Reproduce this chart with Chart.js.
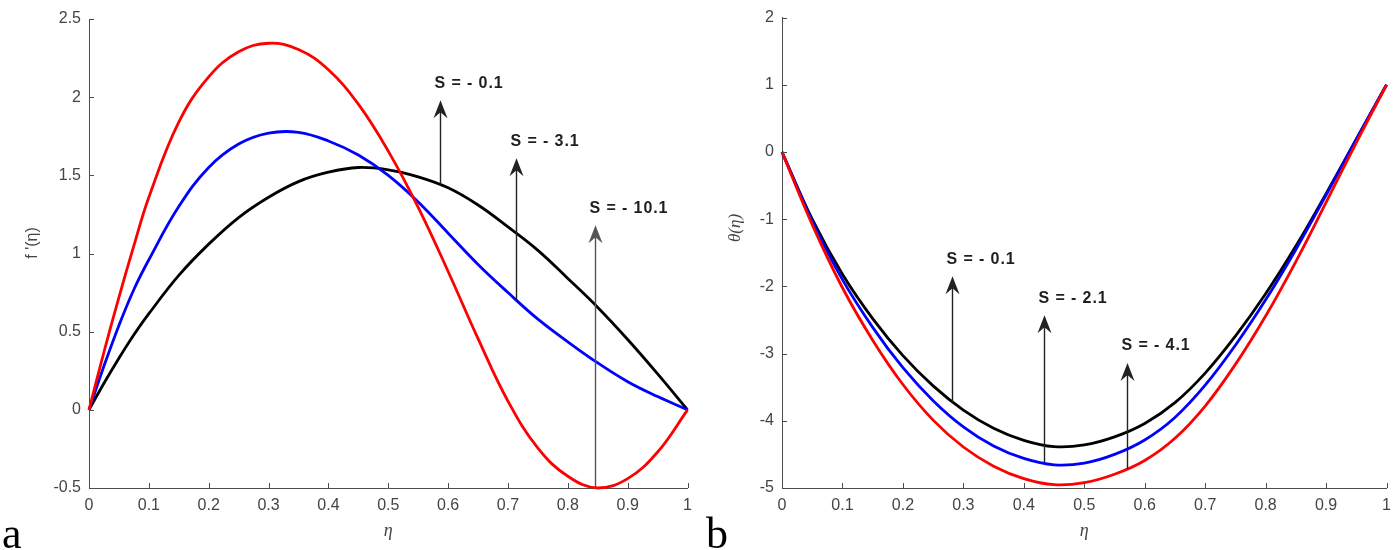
<!DOCTYPE html>
<html>
<head>
<meta charset="utf-8">
<script src="https://cdn.jsdelivr.net/npm/chart.js@4.4.1/dist/chart.umd.min.js"></script>
<style>
  html, body { margin: 0; padding: 0; background: #fff; }
  #wrap { position: relative; width: 1399px; height: 550px; overflow: hidden; }
  canvas { position: absolute; top: 0; }
  #cA { left: 0; }
  #cB { left: 700px; }
</style>
</head>
<body>
<div id="wrap">
  <canvas id="cA" width="700" height="550"></canvas>
  <canvas id="cB" width="699" height="550"></canvas>
</div>
<script>
// ---- panel a: f'(eta) ----
const etaA = [0, 0.025, 0.05, 0.075, 0.1, 0.15, 0.2, 0.25, 0.3, 0.35, 0.4, 0.45, 0.5,
              0.55, 0.6, 0.65, 0.7, 0.75, 0.8, 0.85, 0.9, 0.95, 1];
const fpS01  = [0, 0.17, 0.33, 0.48, 0.615, 0.86, 1.06, 1.23, 1.36, 1.46, 1.52, 1.55, 1.535,
                1.49, 1.42, 1.31, 1.17, 1.02, 0.84, 0.655, 0.45, 0.23, 0];
const fpS31  = [0, 0.28, 0.54, 0.77, 0.96, 1.30, 1.55, 1.70, 1.77, 1.775, 1.72, 1.63, 1.50,
                1.33, 1.13, 0.93, 0.75, 0.58, 0.435, 0.30, 0.18, 0.085, 0];
const fpS101 = [0, 0.37, 0.72, 1.05, 1.36, 1.84, 2.13, 2.29, 2.345, 2.305, 2.175, 1.955, 1.655,
                1.295, 0.885, 0.455, 0.055, -0.245, -0.425, -0.50, -0.44, -0.27, 0];
const xTicks  = [0, 0.1, 0.2, 0.3, 0.4, 0.5, 0.6, 0.7, 0.8, 0.9, 1];
const yTicksA = [-0.5, 0, 0.5, 1, 1.5, 2, 2.5];
const arrowXA    = [0.586, 0.714, 0.846];
const arrowBaseA = [1.44, 0.70, -0.5];
const arrowTipA  = [1.98, 1.61, 1.18];
const arrowTextA = ['S = - 0.1', 'S = - 3.1', 'S = - 10.1'];

// ---- panel b: theta(eta) ----
const etaB = [0, 0.05, 0.1, 0.15, 0.2, 0.25, 0.3, 0.35, 0.4, 0.45, 0.5,
              0.55, 0.6, 0.65, 0.7, 0.75, 0.8, 0.85, 0.9, 0.95, 1];
const thS01 = [0, -1.0, -1.82, -2.48, -3.03, -3.48, -3.84, -4.11, -4.29, -4.385, -4.36,
               -4.24, -4.04, -3.73, -3.29, -2.74, -2.11, -1.40, -0.62, 0.19, 1.0];
const thS21 = [0, -1.03, -1.90, -2.61, -3.21, -3.70, -4.09, -4.375, -4.56, -4.655, -4.63,
               -4.50, -4.285, -3.95, -3.47, -2.875, -2.20, -1.45, -0.64, 0.19, 1.0];
const thS41 = [0, -1.08, -2.02, -2.80, -3.46, -3.99, -4.39, -4.675, -4.86, -4.95, -4.92,
               -4.795, -4.59, -4.26, -3.78, -3.16, -2.44, -1.63, -0.75, 0.14, 1.0];
const yTicksB = [-5, -4, -3, -2, -1, 0, 1, 2];
const arrowXB    = [0.282, 0.434, 0.570];
const arrowBaseB = [-3.73, -4.62, -4.72];
const arrowTipB  = [-1.85, -2.43, -3.14];
const arrowTextB = ['S = - 0.1', 'S = - 2.1', 'S = - 4.1'];

const axisColor = '#4d4d4d';

function pts(xs, ys) {
    return xs.map((x, i) => ({ x: x, y: ys[i] }));
}

function line(data, color) {
    return {
        data: data,
        borderColor: color,
        borderWidth: 2.8,
        pointRadius: 0,
        fill: false,
        tension: 0.4,
        clip: false
    };
}

// arrows with labels, drawn in data coordinates
function arrowPlugin(xs, base, tip, texts, colors) {
    return {
        id: 'arrows',
        afterDatasetsDraw(chart) {
            const ctx = chart.ctx;
            const sx = chart.scales.x, sy = chart.scales.y;
            xs.forEach((xv, i) => {
                const px = Math.round(sx.getPixelForValue(xv)) + 0.5;
                const pb = sy.getPixelForValue(base[i]);
                const pt = sy.getPixelForValue(tip[i]);
                const c = colors[i];
                ctx.save();
                ctx.strokeStyle = c;
                ctx.fillStyle = c;
                ctx.lineWidth = 1.4;
                ctx.beginPath();
                ctx.moveTo(px, pb);
                ctx.lineTo(px, pt + 10);
                ctx.stroke();
                // head
                ctx.beginPath();
                ctx.moveTo(px, pt);
                ctx.lineTo(px + 7, pt + 18);
                ctx.lineTo(px, pt + 12);
                ctx.lineTo(px - 7, pt + 18);
                ctx.closePath();
                ctx.fill();
                // label
                ctx.fillStyle = '#1e1e1e';
                ctx.font = 'bold 16px "Liberation Sans", Arial, sans-serif';
                ctx.letterSpacing = '0.9px';
                ctx.textAlign = 'left';
                ctx.textBaseline = 'middle';
                ctx.fillText(texts[i], px - 6, pt - 17);
                ctx.restore();
            });
        }
    };
}

// inward ticks, axis titles and panel letter
function decorPlugin(cfg) {
    return {
        id: 'decor',
        afterDraw(chart) {
            const ctx = chart.ctx;
            const sx = chart.scales.x, sy = chart.scales.y;
            const a = chart.chartArea;
            ctx.save();
            ctx.strokeStyle = axisColor;
            ctx.lineWidth = 1;
            ctx.beginPath();
            sx.ticks.forEach(t => {
                const p = Math.round(sx.getPixelForValue(t.value)) + 0.5;
                ctx.moveTo(p, a.bottom);
                ctx.lineTo(p, a.bottom - 5);
            });
            sy.ticks.forEach(t => {
                const p = Math.round(sy.getPixelForValue(t.value)) + 0.5;
                ctx.moveTo(a.left, p);
                ctx.lineTo(a.left + 5, p);
            });
            ctx.stroke();

            // x title
            ctx.fillStyle = '#444';
            ctx.textAlign = 'center';
            ctx.textBaseline = 'middle';
            ctx.font = 'italic 18px "Liberation Serif", serif';
            ctx.fillText('η', (a.left + a.right) / 2, 531);

            // y title
            ctx.save();
            ctx.translate(cfg.yTitleX, cfg.yTitleY);
            ctx.rotate(-Math.PI / 2);
            ctx.font = cfg.yTitleFont;
            ctx.fillText(cfg.yTitle, 0, 0);
            ctx.restore();

            // panel letter
            ctx.fillStyle = '#000';
            ctx.textAlign = 'left';
            ctx.textBaseline = 'alphabetic';
            ctx.font = '44px "Liberation Serif", serif';
            ctx.fillText(cfg.letter, cfg.letterX, 548);
            ctx.restore();
        }
    };
}

function axisOpts(min, max, ticks, fmt, fit) {
    return {
        type: 'linear',
        min: min,
        max: max,
        afterBuildTicks(scale) {
            scale.ticks = ticks.map(v => ({ value: v }));
        },
        afterFit: fit,
        grid: { display: true, drawOnChartArea: false, drawTicks: false },
        border: { display: true, color: axisColor, width: 1 },
        ticks: {
            autoSkip: false,
            maxRotation: 0,
            padding: 8,
            color: '#444',
            font: { family: '"Liberation Sans", Arial, sans-serif', size: 16 },
            callback: fmt
        }
    };
}

const fmtX = v => String(Math.round(v * 10) / 10);
const fmtY = v => String(v);

const chartA = new Chart(document.getElementById('cA'), {
    type: 'line',
    data: {
        datasets: [
            line(pts(etaA, fpS101), '#ff0000'),
            line(pts(etaA, fpS31), '#0000ff'),
            line(pts(etaA, fpS01), '#000000')
        ]
    },
    options: {
        responsive: false,
        animation: false,
        devicePixelRatio: 1,
        layout: { padding: { top: 19, right: 12, left: 0, bottom: 0 } },
        plugins: { legend: { display: false }, tooltip: { enabled: false } },
        scales: {
            x: axisOpts(0, 1, xTicks, fmtX, s => { s.height = 62; }),
            y: axisOpts(-0.5, 2.5, yTicksA, fmtY, s => { s.width = 89; })
        }
    },
    plugins: [
        arrowPlugin(arrowXA, arrowBaseA, arrowTipA, arrowTextA, ['#222', '#222', '#555']),
        decorPlugin({ yTitle: "f '(η)", yTitleX: 33, yTitleY: 243,
                      yTitleFont: '16px "Liberation Sans", Arial, sans-serif',
                      letter: 'a', letterX: 2 })
    ]
});

const chartB = new Chart(document.getElementById('cB'), {
    type: 'line',
    data: {
        datasets: [
            line(pts(etaB, thS41), '#ff0000'),
            line(pts(etaB, thS21), '#0000ff'),
            line(pts(etaB, thS01), '#000000')
        ]
    },
    options: {
        responsive: false,
        animation: false,
        devicePixelRatio: 1,
        layout: { padding: { top: 8, right: 4, left: 0, bottom: 0 } },
        plugins: { legend: { display: false }, tooltip: { enabled: false } },
        scales: {
            x: axisOpts(0, 1, xTicks, fmtX, s => { s.height = 62; }),
            y: axisOpts(-5, 2, yTicksB, fmtY, s => { s.width = 82; })
        }
    },
    plugins: [
        arrowPlugin(arrowXB, arrowBaseB, arrowTipB, arrowTextB, ['#222', '#222', '#222']),
        decorPlugin({ yTitle: 'θ(η)', yTitleX: 36, yTitleY: 228,
                      yTitleFont: 'italic 17px "Liberation Serif", serif',
                      letter: 'b', letterX: 6 })
    ]
});
</script>
</body>
</html>
